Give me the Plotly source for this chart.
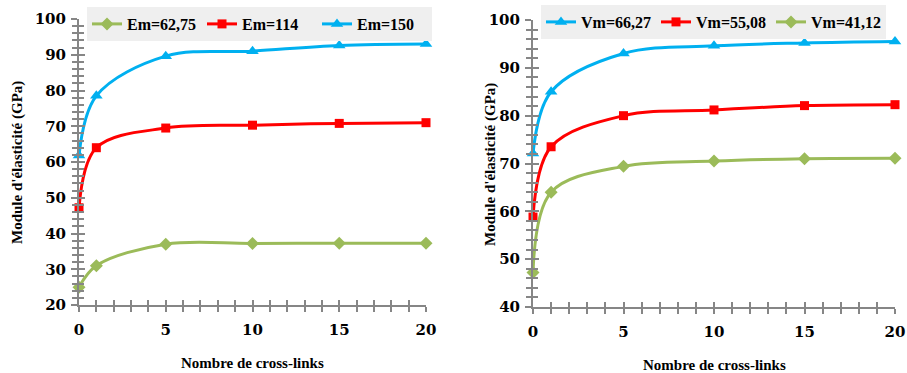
import plotly.graph_objects as go

# ---- data ----
x_links = [0, 1, 5, 10, 15, 20]

# left chart
em_names = ["Em=62,75", "Em=114", "Em=150"]
em_6275 = [25.0, 31.0, 37.0, 37.2, 37.3, 37.3]
em_114 = [47.2, 64.0, 69.5, 70.3, 70.8, 71.0]
em_150 = [61.8, 78.5, 89.6, 91.0, 92.6, 93.0]

# right chart
vm_names = ["Vm=66,27", "Vm=55,08", "Vm=41,12"]
vm_6627 = [72.1, 85.0, 93.0, 94.6, 95.2, 95.5]
vm_5508 = [58.8, 73.5, 80.0, 81.2, 82.1, 82.3]
vm_4112 = [47.2, 64.0, 69.4, 70.5, 71.0, 71.1]

x_tick_vals = [0, 5, 10, 15, 20]
left_y_ticks = [20, 30, 40, 50, 60, 70, 80, 90, 100]
right_y_ticks = [40, 50, 60, 70, 80, 90, 100]

x_title = "<b>Nombre de cross-links</b>"
y_title = "<b>Module d'élasticité (GPa)</b>"

GREEN = "#9BBB59"
RED = "#FF0000"
BLUE = "#00B0F0"
AXIS = "#868686"

SERIF = "Liberation Serif, Times New Roman, Tinos, serif"
WIDE_SERIF = "DejaVu Serif, serif"

W, H = 907, 373

fig = go.Figure()

def add(x, y, name, color, symbol, size, xa, ya, legend):
    fig.add_trace(go.Scatter(
        x=x, y=y, name="<b>" + name + "</b>", mode="lines+markers",
        line=dict(color=color, width=3, shape="spline", smoothing=1.0),
        marker=dict(color=color, symbol=symbol, size=size),
        xaxis=xa, yaxis=ya, legend=legend, cliponaxis=False))

add(x_links, em_6275, em_names[0], GREEN, "diamond", 10, "x", "y", "legend")
add(x_links, em_114, em_names[1], RED, "square", 9, "x", "y", "legend")
add(x_links, em_150, em_names[2], BLUE, "triangle-up", 11, "x", "y", "legend")

add(x_links, vm_6627, vm_names[0], BLUE, "triangle-up", 11, "x2", "y2", "legend2")
add(x_links, vm_5508, vm_names[1], RED, "square", 9, "x2", "y2", "legend2")
add(x_links, vm_4112, vm_names[2], GREEN, "diamond", 10, "x2", "y2", "legend2")

# invisible copies on overlay axes so those axes (inside ticks -> crossing ticks) get drawn
for xa, ya, ys in [("x3", "y3", em_6275), ("x4", "y4", vm_4112)]:
    fig.add_trace(go.Scatter(x=x_links, y=ys, xaxis=xa, yaxis=ya, showlegend=False,
                             mode="lines", line=dict(width=0), opacity=0, hoverinfo="skip"))

tick_font = dict(family=WIDE_SERIF, size=15, color="black", weight="bold")

L_x = [79 / W, 426 / W]
L_y = [1 - 305 / H, 1 - 19 / H]
R_x = [533 / W, 895 / W]
R_y = [1 - 307 / H, 1 - 20 / H]

def xaxis_cfg(domain, anchor, ticks, labels, overlay=None):
    d = dict(type="linear", domain=domain, anchor=anchor, range=[0, 20], tickvals=x_tick_vals,
             ticks=ticks, ticklen=5, tickwidth=2, tickcolor=AXIS,
             minor=dict(dtick=1, tick0=0, ticks=ticks, ticklen=5, tickwidth=2, tickcolor=AXIS),
             showgrid=False, zeroline=False, showticklabels=labels,
             tickfont=tick_font, ticklabelstandoff=5, fixedrange=True)
    if labels:
        d.update(showline=True, linecolor=AXIS, linewidth=2)
    else:
        d.update(showline=False, overlaying=overlay)
    return d

def yaxis_cfg(domain, anchor, rng, tv, ticks, labels, overlay=None):
    d = dict(type="linear", domain=domain, anchor=anchor, range=rng, tickvals=tv,
             ticks=ticks, ticklen=6, tickwidth=2, tickcolor=AXIS,
             minor=dict(dtick=2, tick0=rng[0], ticks=ticks, ticklen=5, tickwidth=2, tickcolor=AXIS),
             showgrid=False, zeroline=False, showticklabels=labels,
             tickfont=tick_font, ticklabelstandoff=2, fixedrange=True)
    if labels:
        d.update(showline=True, linecolor=AXIS, linewidth=2)
    else:
        d.update(showline=False, overlaying=overlay)
    return d

legend_common = dict(orientation="h", bgcolor="#EFEFEF", borderwidth=0,
                     font=dict(family=SERIF, size=16, color="black"),
                     xanchor="left", yanchor="top", itemclick=False,
                     entrywidth=70, entrywidthmode="pixels", tracegroupgap=0)

title_font = dict(family=SERIF, size=15, color="black")

fig.update_layout(
    width=W, height=H,
    margin=dict(l=0, r=0, t=0, b=0, autoexpand=False),
    paper_bgcolor="white", plot_bgcolor="white",
    showlegend=True,
    xaxis=xaxis_cfg(L_x, "y", "outside", True),
    yaxis=yaxis_cfg(L_y, "x", [20, 100], left_y_ticks, "outside", True),
    xaxis2=xaxis_cfg(R_x, "y2", "outside", True),
    yaxis2=yaxis_cfg(R_y, "x2", [40, 100], right_y_ticks, "outside", True),
    xaxis3=xaxis_cfg(L_x, "y3", "inside", False, overlay="x"),
    yaxis3=yaxis_cfg(L_y, "x3", [20, 100], left_y_ticks, "inside", False, overlay="y"),
    xaxis4=xaxis_cfg(R_x, "y4", "inside", False, overlay="x2"),
    yaxis4=yaxis_cfg(R_y, "x4", [40, 100], right_y_ticks, "inside", False, overlay="y2"),
    legend=dict(x=87 / W, y=1 - 7 / H, **legend_common),
    legend2=dict(x=541 / W, y=1 - 5 / H, **legend_common),
    annotations=[
        dict(text=x_title, xref="paper", yref="paper", x=(79 + 426) / 2 / W, y=1 - 363 / H,
             showarrow=False, font=title_font, xanchor="center", yanchor="middle"),
        dict(text=x_title, xref="paper", yref="paper", x=(533 + 895) / 2 / W, y=1 - 365 / H,
             showarrow=False, font=title_font, xanchor="center", yanchor="middle"),
        dict(text=y_title, xref="paper", yref="paper", x=17 / W, y=1 - 163 / H, textangle=-90,
             showarrow=False, font=title_font, xanchor="center", yanchor="middle"),
        dict(text=y_title, xref="paper", yref="paper", x=490 / W, y=1 - 165 / H, textangle=-90,
             showarrow=False, font=title_font, xanchor="center", yanchor="middle"),
    ],
)

fig.write_html("out.html", config={"displayModeBar": False},
               post_script="document.body.style.margin='0px';document.body.style.overflow='hidden';")
